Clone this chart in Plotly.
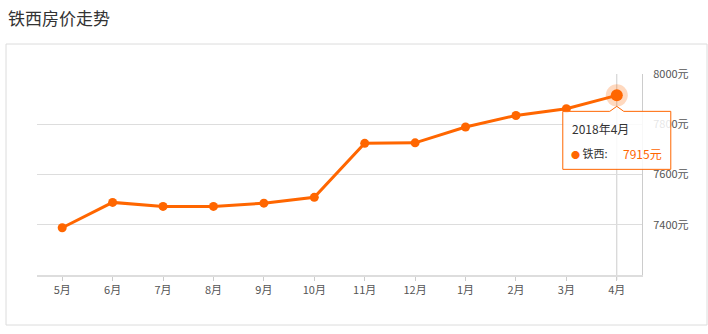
import plotly.graph_objects as go

title_text = "铁西房价走势"
months = ["5月", "6月", "7月", "8月", "9月", "10月", "11月", "12月", "1月", "2月", "3月", "4月"]
prices = [7388, 7489, 7473, 7473, 7486, 7509, 7724, 7726, 7789, 7835, 7862, 7915]
series_name = "铁西"
tooltip_title = "2018年4月"
y_ticks = [7400, 7600, 7800, 8000]
y_ticktext = [f"{v}元" for v in y_ticks]
y_range = [7200, 8000]

W, H = 708, 334
ML, MR, MT, MB = 37, 66, 74, 59
PW, PH = W - ML - MR, H - MT - MB
ORANGE = "#ff6600"
FONT = "Noto Sans CJK SC, Microsoft YaHei, sans-serif"

def px_x(p):
    return (p - ML) / PW

def px_y(p):
    return 1 - (p - MT) / PH

last_i = len(months) - 1
# paper-fraction position of the highlighted point, via the axis ranges
anchor_x = (last_i + 0.5) / len(months)
anchor_y = (prices[-1] - y_range[0]) / (y_range[1] - y_range[0])

fig = go.Figure()
fig.add_trace(go.Scatter(
    x=months, y=prices, mode="lines+markers",
    line=dict(color=ORANGE, width=3),
    marker=dict(color=ORANGE, size=9),
    hoverinfo="skip", cliponaxis=False,
))
fig.add_trace(go.Scatter(
    x=[months[-1]], y=[prices[-1]], mode="markers",
    marker=dict(color="rgba(255,102,0,0.25)", size=22),
    hoverinfo="skip", cliponaxis=False,
))
fig.add_trace(go.Scatter(
    x=[months[-1]], y=[prices[-1]], mode="markers",
    marker=dict(color=ORANGE, size=12),
    hoverinfo="skip", cliponaxis=False,
))

shapes = [
    dict(type="rect", xref="paper", yref="paper",
         x0=px_x(6), x1=px_x(707), y0=px_y(44), y1=px_y(325),
         line=dict(color="#dcdcdc", width=1), fillcolor="rgba(0,0,0,0)", layer="below"),
    dict(type="line", xref="x", yref="paper", x0=last_i, x1=last_i,
         y0=px_y(280), y1=1, line=dict(color="#cccccc", width=1), layer="below"),
    dict(type="path", xref="paper", yref="paper", xsizemode="pixel", ysizemode="pixel",
         xanchor=anchor_x, yanchor=anchor_y,
         path="M -54,-16 L -7,-16 L 0,-11 L 7,-16 L 54,-16 L 54,-74 L -54,-74 Z",
         line=dict(color=ORANGE, width=1), fillcolor="rgba(255,255,255,0.85)", layer="above"),
]

annotations = [
    dict(text=title_text, xref="paper", yref="paper", x=px_x(6), y=px_y(18),
         xanchor="left", yanchor="middle", showarrow=False,
         font=dict(size=17, color="#333333", family=FONT)),
    dict(text=tooltip_title, xref="x", yref="y", x=last_i, y=prices[-1],
         xshift=-47, yshift=-33, xanchor="left", yanchor="middle", showarrow=False,
         font=dict(size=12, color="#333333", family=FONT)),
    dict(text=f"<span style='color:{ORANGE};font-size:9px'>●</span> {series_name}:",
         xref="x", yref="y", x=last_i, y=prices[-1],
         xshift=-48, yshift=-58, xanchor="left", yanchor="middle", showarrow=False,
         font=dict(size=11, color="#333333", family=FONT)),
    dict(text=f"{prices[-1]}元", xref="x", yref="y", x=last_i, y=prices[-1],
         xshift=4, yshift=-58, xanchor="left", yanchor="middle", showarrow=False,
         font=dict(size=12, color=ORANGE, family=FONT)),
]

fig.update_layout(
    width=W, height=H,
    margin=dict(l=ML, r=MR, t=MT, b=MB, pad=0),
    paper_bgcolor="white", plot_bgcolor="white",
    showlegend=False,
    font=dict(family=FONT, color="#555555", size=11),
    shapes=shapes, annotations=annotations,
    xaxis=dict(
        type="category", range=[-0.5, len(months) - 0.5],
        showgrid=False, zeroline=False,
        showline=True, linecolor="#dddddd", linewidth=2,
        ticks="outside", ticklen=4, tickcolor="#cccccc", tickwidth=1,
        tickfont=dict(size=11, color="#555555"),
        fixedrange=True,
    ),
    yaxis=dict(
        side="right", range=y_range,
        tickvals=y_ticks, ticktext=y_ticktext,
        showgrid=True, gridcolor="#dddddd", gridwidth=1,
        zeroline=False, showline=True, linecolor="#cccccc", linewidth=1,
        ticks="", ticklabelstandoff=8,
        tickfont=dict(size=11, color="#555555"),
        fixedrange=True,
    ),
)

fig.write_html("out.html", config={"displayModeBar": False})
